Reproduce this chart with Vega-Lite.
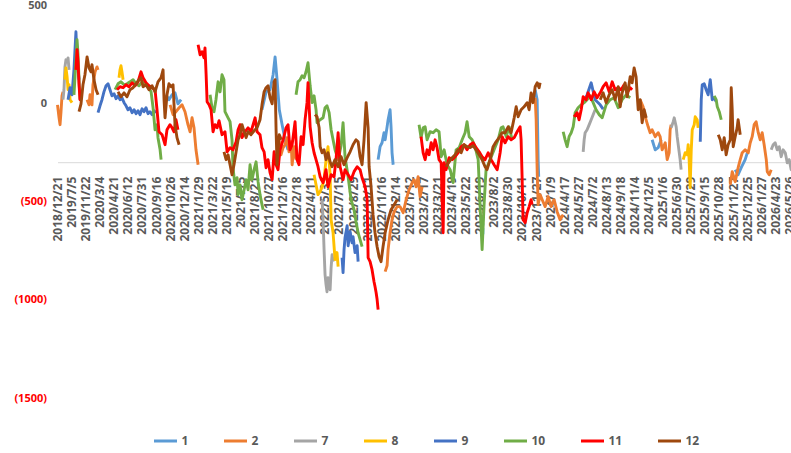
{
"$schema":"https://vega.github.io/schema/vega-lite/v6.json",
"width":760,"height":393,
"autosize":{"type":"none"},
"padding":{"left":57.5,"top":5,"right":0,"bottom":55},
"background":"white",
"config":{"view":{"stroke":null}},
"data":{"values":[
{"s":"1","g":"1a","t":7.71,"v":43},{"s":"1","g":"1a","t":7.92,"v":18},{"s":"1","g":"1a","t":8.14,"v":43},{"s":"1","g":"1a","t":8.35,"v":53},{"s":"1","g":"1a","t":8.56,"v":-3},{"s":"1","g":"1a","t":8.78,"v":18},
{"s":"1","g":"1b","t":14.53,"v":-33},{"s":"1","g":"1b","t":14.82,"v":58},{"s":"1","g":"1b","t":15.10,"v":69},{"s":"1","g":"1b","t":15.32,"v":145},{"s":"1","g":"1b","t":15.46,"v":236},{"s":"1","g":"1b","t":15.60,"v":120},{"s":"1","g":"1b","t":15.76,"v":-33},{"s":"1","g":"1b","t":15.96,"v":-109},{"s":"1","g":"1b","t":16.17,"v":-186},{"s":"1","g":"1b","t":16.38,"v":-237},
{"s":"1","g":"1c","t":22.78,"v":-287},{"s":"1","g":"1c","t":22.92,"v":-221},{"s":"1","g":"1c","t":23.06,"v":-201},{"s":"1","g":"1c","t":23.20,"v":-150},{"s":"1","g":"1c","t":23.28,"v":-186},{"s":"1","g":"1c","t":23.42,"v":-120},{"s":"1","g":"1c","t":23.49,"v":-84},{"s":"1","g":"1c","t":23.63,"v":-33},{"s":"1","g":"1c","t":23.70,"v":-120},{"s":"1","g":"1c","t":23.77,"v":-252},{"s":"1","g":"1c","t":23.85,"v":-313},
{"s":"1","g":"1d","t":33.94,"v":69},{"s":"1","g":"1d","t":34.08,"v":18},{"s":"1","g":"1d","t":34.15,"v":-287},{"s":"1","g":"1d","t":34.19,"v":-374},
{"s":"1","g":"1e","t":42.25,"v":-186},{"s":"1","g":"1e","t":42.47,"v":-237},{"s":"1","g":"1e","t":42.68,"v":-226},{"s":"1","g":"1e","t":42.89,"v":-186},
{"s":"1","g":"1f","t":48.15,"v":-338},{"s":"1","g":"1f","t":48.36,"v":-364},{"s":"1","g":"1f","t":48.58,"v":-328},{"s":"1","g":"1f","t":48.86,"v":-287},{"s":"1","g":"1f","t":49.08,"v":-237},
{"s":"2","g":"2a","t":0.0,"v":-8},{"s":"2","g":"2a","t":0.11,"v":-74},{"s":"2","g":"2a","t":0.18,"v":-109},{"s":"2","g":"2a","t":0.25,"v":-43},{"s":"2","g":"2a","t":0.32,"v":38},{"s":"2","g":"2a","t":0.39,"v":58},
{"s":"2","g":"2b","t":2.10,"v":18},{"s":"2","g":"2b","t":2.24,"v":-8},{"s":"2","g":"2b","t":2.31,"v":43},{"s":"2","g":"2b","t":2.45,"v":-8},{"s":"2","g":"2b","t":2.52,"v":94},{"s":"2","g":"2b","t":2.67,"v":160},{"s":"2","g":"2b","t":2.81,"v":185},{"s":"2","g":"2b","t":2.88,"v":170},
{"s":"2","g":"2c","t":8.00,"v":-8},{"s":"2","g":"2c","t":8.21,"v":-58},{"s":"2","g":"2c","t":8.42,"v":-43},{"s":"2","g":"2c","t":8.64,"v":-23},{"s":"2","g":"2c","t":8.85,"v":-8},{"s":"2","g":"2c","t":9.06,"v":-43},{"s":"2","g":"2c","t":9.27,"v":-109},{"s":"2","g":"2c","t":9.42,"v":-145},{"s":"2","g":"2c","t":9.56,"v":-74},{"s":"2","g":"2c","t":9.70,"v":-125},{"s":"2","g":"2c","t":9.84,"v":-237},{"s":"2","g":"2c","t":9.99,"v":-313},
{"s":"2","g":"2d","t":15.74,"v":-186},{"s":"2","g":"2d","t":15.88,"v":-262},{"s":"2","g":"2d","t":16.03,"v":-226},{"s":"2","g":"2d","t":16.17,"v":-211},{"s":"2","g":"2d","t":16.31,"v":-175},{"s":"2","g":"2d","t":16.45,"v":-247},{"s":"2","g":"2d","t":16.60,"v":-196},{"s":"2","g":"2d","t":16.67,"v":-313},{"s":"2","g":"2d","t":16.81,"v":-221},{"s":"2","g":"2d","t":16.95,"v":-287},
{"s":"2","g":"2e","t":23.28,"v":-857},{"s":"2","g":"2e","t":23.42,"v":-826},{"s":"2","g":"2e","t":23.49,"v":-745},{"s":"2","g":"2e","t":23.63,"v":-659},{"s":"2","g":"2e","t":23.77,"v":-593},{"s":"2","g":"2e","t":23.92,"v":-552},{"s":"2","g":"2e","t":24.13,"v":-526},{"s":"2","g":"2e","t":24.34,"v":-526},{"s":"2","g":"2e","t":24.56,"v":-557},{"s":"2","g":"2e","t":24.77,"v":-491},{"s":"2","g":"2e","t":24.98,"v":-440},{"s":"2","g":"2e","t":25.20,"v":-404},{"s":"2","g":"2e","t":25.34,"v":-389},{"s":"2","g":"2e","t":25.48,"v":-425},{"s":"2","g":"2e","t":25.62,"v":-374},{"s":"2","g":"2e","t":25.76,"v":-475},{"s":"2","g":"2e","t":25.91,"v":-425},
{"s":"2","g":"2f","t":33.94,"v":28},{"s":"2","g":"2f","t":34.01,"v":-84},{"s":"2","g":"2f","t":34.08,"v":-338},{"s":"2","g":"2f","t":34.15,"v":-516},{"s":"2","g":"2f","t":34.29,"v":-465},{"s":"2","g":"2f","t":34.44,"v":-491},{"s":"2","g":"2f","t":34.65,"v":-526},{"s":"2","g":"2f","t":34.86,"v":-475},{"s":"2","g":"2f","t":35.07,"v":-526},{"s":"2","g":"2f","t":35.29,"v":-491},{"s":"2","g":"2f","t":35.50,"v":-552},{"s":"2","g":"2f","t":35.71,"v":-593},{"s":"2","g":"2f","t":35.93,"v":-567},
{"s":"2","g":"2g","t":41.40,"v":18},{"s":"2","g":"2g","t":41.61,"v":-18},{"s":"2","g":"2g","t":41.76,"v":-69},{"s":"2","g":"2g","t":41.97,"v":-120},{"s":"2","g":"2g","t":42.11,"v":-150},{"s":"2","g":"2g","t":42.25,"v":-135},{"s":"2","g":"2g","t":42.47,"v":-170},{"s":"2","g":"2g","t":42.68,"v":-150},{"s":"2","g":"2g","t":42.82,"v":-170},{"s":"2","g":"2g","t":42.96,"v":-237},{"s":"2","g":"2g","t":43.18,"v":-201},{"s":"2","g":"2g","t":43.32,"v":-287},{"s":"2","g":"2g","t":43.46,"v":-252},{"s":"2","g":"2g","t":43.53,"v":-135},{"s":"2","g":"2g","t":43.60,"v":-109},
{"s":"2","g":"2h","t":47.80,"v":-415},{"s":"2","g":"2h","t":47.94,"v":-348},{"s":"2","g":"2h","t":48.15,"v":-399},{"s":"2","g":"2h","t":48.36,"v":-328},{"s":"2","g":"2h","t":48.51,"v":-287},{"s":"2","g":"2h","t":48.65,"v":-252},{"s":"2","g":"2h","t":48.86,"v":-237},{"s":"2","g":"2h","t":49.08,"v":-252},{"s":"2","g":"2h","t":49.22,"v":-201},{"s":"2","g":"2h","t":49.36,"v":-170},{"s":"2","g":"2h","t":49.50,"v":-109},{"s":"2","g":"2h","t":49.64,"v":-94},{"s":"2","g":"2h","t":49.79,"v":-150},{"s":"2","g":"2h","t":49.93,"v":-186},{"s":"2","g":"2h","t":50.07,"v":-150},{"s":"2","g":"2h","t":50.21,"v":-211},{"s":"2","g":"2h","t":50.36,"v":-287},{"s":"2","g":"2h","t":50.43,"v":-348},{"s":"2","g":"2h","t":50.57,"v":-364},{"s":"2","g":"2h","t":50.71,"v":-338},
{"s":"7","g":"7a","t":0.39,"v":18},{"s":"7","g":"7a","t":0.46,"v":69},{"s":"7","g":"7a","t":0.53,"v":185},{"s":"7","g":"7a","t":0.60,"v":221},{"s":"7","g":"7a","t":0.68,"v":211},{"s":"7","g":"7a","t":0.75,"v":231},{"s":"7","g":"7a","t":0.82,"v":170},
{"s":"7","g":"7b","t":18.80,"v":-491},{"s":"7","g":"7b","t":18.87,"v":-593},{"s":"7","g":"7b","t":18.94,"v":-745},{"s":"7","g":"7b","t":19.01,"v":-872},{"s":"7","g":"7b","t":19.08,"v":-923},{"s":"7","g":"7b","t":19.15,"v":-959},{"s":"7","g":"7b","t":19.22,"v":-888},{"s":"7","g":"7b","t":19.30,"v":-923},{"s":"7","g":"7b","t":19.37,"v":-949},{"s":"7","g":"7b","t":19.44,"v":-837},{"s":"7","g":"7b","t":19.51,"v":-771},{"s":"7","g":"7b","t":19.58,"v":-806},
{"s":"7","g":"7c","t":37.35,"v":-247},{"s":"7","g":"7c","t":37.42,"v":-186},{"s":"7","g":"7c","t":37.49,"v":-150},{"s":"7","g":"7c","t":37.63,"v":-135},{"s":"7","g":"7c","t":37.78,"v":-109},{"s":"7","g":"7c","t":37.92,"v":-84},{"s":"7","g":"7c","t":38.06,"v":-58},{"s":"7","g":"7c","t":38.20,"v":-33},
{"s":"7","g":"7d","t":43.60,"v":-125},{"s":"7","g":"7d","t":43.75,"v":-94},{"s":"7","g":"7d","t":43.82,"v":-74},{"s":"7","g":"7d","t":43.96,"v":-120},{"s":"7","g":"7d","t":44.03,"v":-170},{"s":"7","g":"7d","t":44.24,"v":-287},{"s":"7","g":"7d","t":44.31,"v":-338},
{"s":"7","g":"7e","t":50.71,"v":-237},{"s":"7","g":"7e","t":50.85,"v":-211},{"s":"7","g":"7e","t":50.99,"v":-201},{"s":"7","g":"7e","t":51.14,"v":-237},{"s":"7","g":"7e","t":51.28,"v":-221},{"s":"7","g":"7e","t":51.42,"v":-272},{"s":"7","g":"7e","t":51.56,"v":-237},{"s":"7","g":"7e","t":51.71,"v":-252},{"s":"7","g":"7e","t":51.85,"v":-303},{"s":"7","g":"7e","t":51.99,"v":-287},{"s":"7","g":"7e","t":52.13,"v":-338},{"s":"7","g":"7e","t":52.42,"v":-348},
{"s":"8","g":"8a","t":0.53,"v":120},{"s":"8","g":"8a","t":0.60,"v":180},{"s":"8","g":"8a","t":0.68,"v":135},{"s":"8","g":"8a","t":0.75,"v":69},{"s":"8","g":"8a","t":0.82,"v":94},{"s":"8","g":"8a","t":0.89,"v":18},{"s":"8","g":"8a","t":1.03,"v":3},
{"s":"8","g":"8b","t":4.37,"v":130},{"s":"8","g":"8b","t":4.44,"v":170},{"s":"8","g":"8b","t":4.51,"v":191},{"s":"8","g":"8b","t":4.58,"v":160},{"s":"8","g":"8b","t":4.66,"v":120},
{"s":"8","g":"8c","t":18.23,"v":-364},{"s":"8","g":"8c","t":18.37,"v":-415},{"s":"8","g":"8c","t":18.51,"v":-465},{"s":"8","g":"8c","t":18.66,"v":-450},{"s":"8","g":"8c","t":18.80,"v":-425},{"s":"8","g":"8c","t":18.94,"v":-389},{"s":"8","g":"8c","t":19.08,"v":-287},{"s":"8","g":"8c","t":19.22,"v":-221},{"s":"8","g":"8c","t":19.37,"v":-364},{"s":"8","g":"8c","t":19.44,"v":-593},{"s":"8","g":"8c","t":19.58,"v":-659},{"s":"8","g":"8c","t":19.72,"v":-796},{"s":"8","g":"8c","t":19.86,"v":-760},{"s":"8","g":"8c","t":19.94,"v":-832},
{"s":"8","g":"8d","t":44.46,"v":-287},{"s":"8","g":"8d","t":44.60,"v":-252},{"s":"8","g":"8d","t":44.74,"v":-262},{"s":"8","g":"8d","t":44.81,"v":-211},{"s":"8","g":"8d","t":44.88,"v":-287},{"s":"8","g":"8d","t":44.95,"v":-430},{"s":"8","g":"8d","t":45.03,"v":-237},{"s":"8","g":"8d","t":45.10,"v":-135},{"s":"8","g":"8d","t":45.24,"v":-109},{"s":"8","g":"8d","t":45.31,"v":-69},{"s":"8","g":"8d","t":45.45,"v":-84},{"s":"8","g":"8d","t":45.52,"v":-125},
{"s":"9","g":"9a","t":0.75,"v":18},{"s":"9","g":"9a","t":0.89,"v":79},{"s":"9","g":"9a","t":1.03,"v":43},{"s":"9","g":"9a","t":1.17,"v":170},{"s":"9","g":"9a","t":1.31,"v":364},{"s":"9","g":"9a","t":1.39,"v":221},{"s":"9","g":"9a","t":1.53,"v":120},
{"s":"9","g":"9b","t":2.88,"v":-48},{"s":"9","g":"9b","t":3.02,"v":-13},{"s":"9","g":"9b","t":3.16,"v":18},{"s":"9","g":"9b","t":3.30,"v":58},{"s":"9","g":"9b","t":3.45,"v":89},{"s":"9","g":"9b","t":3.59,"v":99},{"s":"9","g":"9b","t":3.73,"v":69},{"s":"9","g":"9b","t":3.87,"v":38},{"s":"9","g":"9b","t":4.02,"v":48},{"s":"9","g":"9b","t":4.16,"v":23},{"s":"9","g":"9b","t":4.30,"v":38},{"s":"9","g":"9b","t":4.44,"v":18},{"s":"9","g":"9b","t":4.58,"v":28},{"s":"9","g":"9b","t":4.73,"v":3},{"s":"9","g":"9b","t":4.87,"v":-13},{"s":"9","g":"9b","t":5.01,"v":-33},{"s":"9","g":"9b","t":5.15,"v":-23},{"s":"9","g":"9b","t":5.30,"v":-48},{"s":"9","g":"9b","t":5.44,"v":-33},{"s":"9","g":"9b","t":5.58,"v":-53},{"s":"9","g":"9b","t":5.72,"v":-38},{"s":"9","g":"9b","t":5.86,"v":-58},{"s":"9","g":"9b","t":6.01,"v":-28},{"s":"9","g":"9b","t":6.15,"v":-43},{"s":"9","g":"9b","t":6.29,"v":-23},{"s":"9","g":"9b","t":6.43,"v":-53},{"s":"9","g":"9b","t":6.57,"v":-43},{"s":"9","g":"9b","t":6.72,"v":-58},{"s":"9","g":"9b","t":6.86,"v":-38},{"s":"9","g":"9b","t":7.00,"v":-48},
{"s":"9","g":"9c","t":20.22,"v":-786},{"s":"9","g":"9c","t":20.29,"v":-862},{"s":"9","g":"9c","t":20.36,"v":-745},{"s":"9","g":"9c","t":20.43,"v":-684},{"s":"9","g":"9c","t":20.58,"v":-623},{"s":"9","g":"9c","t":20.65,"v":-725},{"s":"9","g":"9c","t":20.79,"v":-654},{"s":"9","g":"9c","t":20.93,"v":-710},{"s":"9","g":"9c","t":21.00,"v":-679},{"s":"9","g":"9c","t":21.14,"v":-760},{"s":"9","g":"9c","t":21.29,"v":-725},{"s":"9","g":"9c","t":21.36,"v":-806},
{"s":"9","g":"9d","t":37.35,"v":3},{"s":"9","g":"9d","t":37.63,"v":43},{"s":"9","g":"9d","t":37.92,"v":104},{"s":"9","g":"9d","t":38.20,"v":18},{"s":"9","g":"9d","t":38.56,"v":-8},{"s":"9","g":"9d","t":38.77,"v":-30},
{"s":"9","g":"9e","t":45.67,"v":-196},{"s":"9","g":"9e","t":45.74,"v":18},{"s":"9","g":"9e","t":45.81,"v":94},{"s":"9","g":"9e","t":45.95,"v":99},{"s":"9","g":"9e","t":46.09,"v":69},{"s":"9","g":"9e","t":46.23,"v":43},{"s":"9","g":"9e","t":46.38,"v":120},{"s":"9","g":"9e","t":46.52,"v":18},{"s":"9","g":"9e","t":46.66,"v":28},{"s":"9","g":"9e","t":46.80,"v":8},
{"s":"10","g":"10a","t":1.17,"v":43},{"s":"10","g":"10a","t":1.31,"v":221},{"s":"10","g":"10a","t":1.39,"v":323},{"s":"10","g":"10a","t":1.46,"v":247},{"s":"10","g":"10a","t":1.53,"v":120},{"s":"10","g":"10a","t":1.60,"v":18},
{"s":"10","g":"10b","t":4.09,"v":69},{"s":"10","g":"10b","t":4.30,"v":99},{"s":"10","g":"10b","t":4.51,"v":109},{"s":"10","g":"10b","t":4.73,"v":94},{"s":"10","g":"10b","t":4.94,"v":99},{"s":"10","g":"10b","t":5.15,"v":109},{"s":"10","g":"10b","t":5.37,"v":120},{"s":"10","g":"10b","t":5.58,"v":99},{"s":"10","g":"10b","t":5.79,"v":89},{"s":"10","g":"10b","t":6.01,"v":109},{"s":"10","g":"10b","t":6.22,"v":99},{"s":"10","g":"10b","t":6.43,"v":89},{"s":"10","g":"10b","t":6.65,"v":58},{"s":"10","g":"10b","t":6.79,"v":-23},{"s":"10","g":"10b","t":6.93,"v":-135},{"s":"10","g":"10b","t":7.07,"v":-109},{"s":"10","g":"10b","t":7.14,"v":-175},{"s":"10","g":"10b","t":7.29,"v":-237},{"s":"10","g":"10b","t":7.36,"v":-287},
{"s":"10","g":"10c","t":10.84,"v":43},{"s":"10","g":"10c","t":10.98,"v":-23},{"s":"10","g":"10c","t":11.12,"v":-43},{"s":"10","g":"10c","t":11.26,"v":18},{"s":"10","g":"10c","t":11.41,"v":109},{"s":"10","g":"10c","t":11.55,"v":58},{"s":"10","g":"10c","t":11.69,"v":145},{"s":"10","g":"10c","t":11.83,"v":120},{"s":"10","g":"10c","t":11.90,"v":-43},{"s":"10","g":"10c","t":12.12,"v":-74},{"s":"10","g":"10c","t":12.26,"v":-94},{"s":"10","g":"10c","t":12.40,"v":-186},{"s":"10","g":"10c","t":12.47,"v":-328},{"s":"10","g":"10c","t":12.61,"v":-415},{"s":"10","g":"10c","t":12.76,"v":-379},{"s":"10","g":"10c","t":12.83,"v":-465},{"s":"10","g":"10c","t":12.97,"v":-415},{"s":"10","g":"10c","t":13.11,"v":-491},{"s":"10","g":"10c","t":13.26,"v":-440},{"s":"10","g":"10c","t":13.40,"v":-389},{"s":"10","g":"10c","t":13.54,"v":-440},{"s":"10","g":"10c","t":13.68,"v":-313},{"s":"10","g":"10c","t":13.82,"v":-389},{"s":"10","g":"10c","t":13.97,"v":-338},{"s":"10","g":"10c","t":14.11,"v":-298},{"s":"10","g":"10c","t":14.25,"v":-399},{"s":"10","g":"10c","t":14.39,"v":-465},{"s":"10","g":"10c","t":14.53,"v":-516},{"s":"10","g":"10c","t":14.61,"v":-542},
{"s":"10","g":"10d","t":16.95,"v":43},{"s":"10","g":"10d","t":17.09,"v":109},{"s":"10","g":"10d","t":17.24,"v":120},{"s":"10","g":"10d","t":17.38,"v":140},{"s":"10","g":"10d","t":17.52,"v":130},{"s":"10","g":"10d","t":17.66,"v":160},{"s":"10","g":"10d","t":17.80,"v":206},{"s":"10","g":"10d","t":17.95,"v":89},{"s":"10","g":"10d","t":18.09,"v":3},{"s":"10","g":"10d","t":18.23,"v":38},{"s":"10","g":"10d","t":18.37,"v":-33},{"s":"10","g":"10d","t":18.44,"v":-99},{"s":"10","g":"10d","t":18.66,"v":-84},{"s":"10","g":"10d","t":18.87,"v":-74},{"s":"10","g":"10d","t":19.01,"v":-23},{"s":"10","g":"10d","t":19.15,"v":-13},{"s":"10","g":"10d","t":19.30,"v":-48},{"s":"10","g":"10d","t":19.44,"v":-135},{"s":"10","g":"10d","t":19.58,"v":-186},{"s":"10","g":"10d","t":19.72,"v":-237},{"s":"10","g":"10d","t":19.94,"v":-287},{"s":"10","g":"10d","t":20.15,"v":-216},{"s":"10","g":"10d","t":20.29,"v":-99},{"s":"10","g":"10d","t":20.43,"v":-272},{"s":"10","g":"10d","t":20.65,"v":-374},{"s":"10","g":"10d","t":20.86,"v":-491},{"s":"10","g":"10d","t":21.07,"v":-542},{"s":"10","g":"10d","t":21.21,"v":-603},{"s":"10","g":"10d","t":21.36,"v":-659},{"s":"10","g":"10d","t":21.50,"v":-694},{"s":"10","g":"10d","t":21.64,"v":-730},
{"s":"10","g":"10e","t":25.69,"v":-109},{"s":"10","g":"10e","t":25.83,"v":-175},{"s":"10","g":"10e","t":25.98,"v":-125},{"s":"10","g":"10e","t":26.12,"v":-120},{"s":"10","g":"10e","t":26.26,"v":-186},{"s":"10","g":"10e","t":26.47,"v":-145},{"s":"10","g":"10e","t":26.69,"v":-150},{"s":"10","g":"10e","t":26.90,"v":-135},{"s":"10","g":"10e","t":27.11,"v":-145},{"s":"10","g":"10e","t":27.26,"v":-272},{"s":"10","g":"10e","t":27.47,"v":-237},{"s":"10","g":"10e","t":27.68,"v":-313},{"s":"10","g":"10e","t":27.90,"v":-338},{"s":"10","g":"10e","t":28.11,"v":-404},{"s":"10","g":"10e","t":28.32,"v":-237},{"s":"10","g":"10e","t":28.54,"v":-226},{"s":"10","g":"10e","t":28.75,"v":-186},{"s":"10","g":"10e","t":28.96,"v":-150},{"s":"10","g":"10e","t":29.10,"v":-94},{"s":"10","g":"10e","t":29.25,"v":-170},{"s":"10","g":"10e","t":29.46,"v":-186},{"s":"10","g":"10e","t":29.67,"v":-221},{"s":"10","g":"10e","t":29.89,"v":-287},{"s":"10","g":"10e","t":30.03,"v":-526},{"s":"10","g":"10e","t":30.17,"v":-745},{"s":"10","g":"10e","t":30.31,"v":-516},{"s":"10","g":"10e","t":30.45,"v":-338},{"s":"10","g":"10e","t":30.74,"v":-287},{"s":"10","g":"10e","t":31.02,"v":-237},{"s":"10","g":"10e","t":31.31,"v":-186},{"s":"10","g":"10e","t":31.52,"v":-125},{"s":"10","g":"10e","t":31.66,"v":-120},{"s":"10","g":"10e","t":31.88,"v":-170},{"s":"10","g":"10e","t":32.09,"v":-120},{"s":"10","g":"10e","t":32.30,"v":-186},
{"s":"10","g":"10f","t":35.93,"v":-145},{"s":"10","g":"10f","t":36.07,"v":-186},{"s":"10","g":"10f","t":36.21,"v":-221},{"s":"10","g":"10f","t":36.35,"v":-170},{"s":"10","g":"10f","t":36.50,"v":-150},{"s":"10","g":"10f","t":36.64,"v":-120},{"s":"10","g":"10f","t":36.78,"v":-48},{"s":"10","g":"10f","t":36.99,"v":-23},{"s":"10","g":"10f","t":37.21,"v":-8},{"s":"10","g":"10f","t":37.42,"v":3},{"s":"10","g":"10f","t":37.63,"v":18},{"s":"10","g":"10f","t":37.85,"v":38},{"s":"10","g":"10f","t":38.06,"v":3},{"s":"10","g":"10f","t":38.27,"v":-33},{"s":"10","g":"10f","t":38.49,"v":-58},{"s":"10","g":"10f","t":38.70,"v":-74},{"s":"10","g":"10f","t":38.98,"v":-8},{"s":"10","g":"10f","t":39.27,"v":18},{"s":"10","g":"10f","t":39.55,"v":28},{"s":"10","g":"10f","t":39.84,"v":-23},{"s":"10","g":"10f","t":40.12,"v":18},{"s":"10","g":"10f","t":40.40,"v":43},{"s":"10","g":"10f","t":40.69,"v":28},
{"s":"10","g":"10g","t":46.66,"v":38},{"s":"10","g":"10g","t":46.80,"v":18},{"s":"10","g":"10g","t":46.88,"v":-18},{"s":"10","g":"10g","t":47.02,"v":-43},{"s":"10","g":"10g","t":47.16,"v":-84},
{"s":"11","g":"11a","t":1.31,"v":170},{"s":"11","g":"11a","t":1.39,"v":273},{"s":"11","g":"11a","t":1.46,"v":211},{"s":"11","g":"11a","t":1.53,"v":94},{"s":"11","g":"11a","t":1.60,"v":18},{"s":"11","g":"11a","t":1.67,"v":43},
{"s":"11","g":"11b","t":4.23,"v":69},{"s":"11","g":"11b","t":4.44,"v":84},{"s":"11","g":"11b","t":4.66,"v":79},{"s":"11","g":"11b","t":4.87,"v":94},{"s":"11","g":"11b","t":5.08,"v":84},{"s":"11","g":"11b","t":5.30,"v":104},{"s":"11","g":"11b","t":5.51,"v":89},{"s":"11","g":"11b","t":5.72,"v":109},{"s":"11","g":"11b","t":5.93,"v":160},{"s":"11","g":"11b","t":6.08,"v":130},{"s":"11","g":"11b","t":6.29,"v":104},{"s":"11","g":"11b","t":6.50,"v":89},{"s":"11","g":"11b","t":6.72,"v":79},{"s":"11","g":"11b","t":6.93,"v":69},{"s":"11","g":"11b","t":7.07,"v":-33},{"s":"11","g":"11b","t":7.21,"v":-145},{"s":"11","g":"11b","t":7.43,"v":-160},{"s":"11","g":"11b","t":7.64,"v":-211},{"s":"11","g":"11b","t":7.78,"v":-135},{"s":"11","g":"11b","t":7.99,"v":-109},{"s":"11","g":"11b","t":8.14,"v":-125},{"s":"11","g":"11b","t":8.28,"v":-145},{"s":"11","g":"11b","t":8.42,"v":-84},{"s":"11","g":"11b","t":8.56,"v":-135},
{"s":"11","g":"11c","t":9.99,"v":298},{"s":"11","g":"11c","t":10.13,"v":247},{"s":"11","g":"11c","t":10.27,"v":262},{"s":"11","g":"11c","t":10.41,"v":231},{"s":"11","g":"11c","t":10.48,"v":282},{"s":"11","g":"11c","t":10.56,"v":145},{"s":"11","g":"11c","t":10.63,"v":8},{"s":"11","g":"11c","t":10.77,"v":-8},{"s":"11","g":"11c","t":10.91,"v":-33},{"s":"11","g":"11c","t":11.05,"v":-145},{"s":"11","g":"11c","t":11.19,"v":-109},{"s":"11","g":"11c","t":11.34,"v":-125},{"s":"11","g":"11c","t":11.48,"v":-89},{"s":"11","g":"11c","t":11.69,"v":-160},{"s":"11","g":"11c","t":11.90,"v":-145},{"s":"11","g":"11c","t":12.05,"v":-247},{"s":"11","g":"11c","t":12.26,"v":-226},{"s":"11","g":"11c","t":12.47,"v":-237},{"s":"11","g":"11c","t":12.69,"v":-196},{"s":"11","g":"11c","t":12.83,"v":-135},{"s":"11","g":"11c","t":12.97,"v":-109},{"s":"11","g":"11c","t":13.11,"v":-175},{"s":"11","g":"11c","t":13.33,"v":-145},{"s":"11","g":"11c","t":13.54,"v":-125},{"s":"11","g":"11c","t":13.75,"v":-145},{"s":"11","g":"11c","t":14.04,"v":-74},{"s":"11","g":"11c","t":14.18,"v":-145},{"s":"11","g":"11c","t":14.39,"v":-160},{"s":"11","g":"11c","t":14.53,"v":-226},{"s":"11","g":"11c","t":14.68,"v":-247},{"s":"11","g":"11c","t":14.82,"v":-328},{"s":"11","g":"11c","t":14.96,"v":-287},{"s":"11","g":"11c","t":15.10,"v":-353},{"s":"11","g":"11c","t":15.25,"v":-389},{"s":"11","g":"11c","t":15.39,"v":-247},{"s":"11","g":"11c","t":15.53,"v":-313},{"s":"11","g":"11c","t":15.67,"v":-338},{"s":"11","g":"11c","t":15.81,"v":-237},{"s":"11","g":"11c","t":16.03,"v":-186},{"s":"11","g":"11c","t":16.24,"v":-125},{"s":"11","g":"11c","t":16.38,"v":-109},{"s":"11","g":"11c","t":16.52,"v":-237},{"s":"11","g":"11c","t":16.67,"v":-211},{"s":"11","g":"11c","t":16.88,"v":-94},{"s":"11","g":"11c","t":17.02,"v":-287},{"s":"11","g":"11c","t":17.16,"v":-313},{"s":"11","g":"11c","t":17.31,"v":-170},{"s":"11","g":"11c","t":17.45,"v":-211},{"s":"11","g":"11c","t":17.59,"v":-84},{"s":"11","g":"11c","t":17.73,"v":3},{"s":"11","g":"11c","t":17.80,"v":104},{"s":"11","g":"11c","t":17.95,"v":-120},{"s":"11","g":"11c","t":18.09,"v":-201},{"s":"11","g":"11c","t":18.23,"v":-252},{"s":"11","g":"11c","t":18.37,"v":-287},{"s":"11","g":"11c","t":18.51,"v":-323},{"s":"11","g":"11c","t":18.66,"v":-374},{"s":"11","g":"11c","t":18.87,"v":-404},{"s":"11","g":"11c","t":19.08,"v":-338},{"s":"11","g":"11c","t":19.22,"v":-425},{"s":"11","g":"11c","t":19.44,"v":-364},{"s":"11","g":"11c","t":19.65,"v":-374},{"s":"11","g":"11c","t":19.79,"v":-287},{"s":"11","g":"11c","t":19.94,"v":-150},{"s":"11","g":"11c","t":20.08,"v":-323},{"s":"11","g":"11c","t":20.29,"v":-389},{"s":"11","g":"11c","t":20.43,"v":-338},{"s":"11","g":"11c","t":20.65,"v":-364},{"s":"11","g":"11c","t":20.86,"v":-389},{"s":"11","g":"11c","t":21.07,"v":-348},{"s":"11","g":"11c","t":21.29,"v":-323},{"s":"11","g":"11c","t":21.50,"v":-338},{"s":"11","g":"11c","t":21.64,"v":-379},{"s":"11","g":"11c","t":21.86,"v":-425},{"s":"11","g":"11c","t":22.00,"v":-491},{"s":"11","g":"11c","t":22.07,"v":-786},{"s":"11","g":"11c","t":22.21,"v":-806},{"s":"11","g":"11c","t":22.35,"v":-847},{"s":"11","g":"11c","t":22.49,"v":-908},{"s":"11","g":"11c","t":22.56,"v":-933},{"s":"11","g":"11c","t":22.64,"v":-964},{"s":"11","g":"11c","t":22.71,"v":-999},{"s":"11","g":"11c","t":22.78,"v":-1050},
{"s":"11","g":"11d","t":25.83,"v":-170},{"s":"11","g":"11d","t":25.98,"v":-252},{"s":"11","g":"11d","t":26.12,"v":-287},{"s":"11","g":"11d","t":26.26,"v":-237},{"s":"11","g":"11d","t":26.40,"v":-262},{"s":"11","g":"11d","t":26.55,"v":-201},{"s":"11","g":"11d","t":26.69,"v":-237},{"s":"11","g":"11d","t":26.83,"v":-186},{"s":"11","g":"11d","t":26.97,"v":-226},{"s":"11","g":"11d","t":27.11,"v":-287},{"s":"11","g":"11d","t":27.26,"v":-303},{"s":"11","g":"11d","t":27.33,"v":-491},{"s":"11","g":"11d","t":27.40,"v":-659},{"s":"11","g":"11d","t":27.47,"v":-303},{"s":"11","g":"11d","t":27.61,"v":-338},{"s":"11","g":"11d","t":27.83,"v":-277},{"s":"11","g":"11d","t":28.04,"v":-287},{"s":"11","g":"11d","t":28.25,"v":-272},{"s":"11","g":"11d","t":28.46,"v":-252},{"s":"11","g":"11d","t":28.68,"v":-221},{"s":"11","g":"11d","t":28.89,"v":-211},{"s":"11","g":"11d","t":29.10,"v":-237},{"s":"11","g":"11d","t":29.32,"v":-211},{"s":"11","g":"11d","t":29.53,"v":-201},{"s":"11","g":"11d","t":29.74,"v":-226},{"s":"11","g":"11d","t":29.96,"v":-247},{"s":"11","g":"11d","t":30.17,"v":-272},{"s":"11","g":"11d","t":30.38,"v":-287},{"s":"11","g":"11d","t":30.60,"v":-252},{"s":"11","g":"11d","t":30.81,"v":-287},{"s":"11","g":"11d","t":31.02,"v":-313},{"s":"11","g":"11d","t":31.24,"v":-338},{"s":"11","g":"11d","t":31.45,"v":-252},{"s":"11","g":"11d","t":31.59,"v":-170},{"s":"11","g":"11d","t":31.80,"v":-201},{"s":"11","g":"11d","t":32.02,"v":-170},{"s":"11","g":"11d","t":32.23,"v":-186},{"s":"11","g":"11d","t":32.45,"v":-175},{"s":"11","g":"11d","t":32.66,"v":-145},{"s":"11","g":"11d","t":32.87,"v":-120},{"s":"11","g":"11d","t":32.94,"v":-186},{"s":"11","g":"11d","t":33.01,"v":-374},{"s":"11","g":"11d","t":33.08,"v":-593},{"s":"11","g":"11d","t":33.23,"v":-608},{"s":"11","g":"11d","t":33.37,"v":-557},{"s":"11","g":"11d","t":33.51,"v":-526},{"s":"11","g":"11d","t":33.65,"v":-491},{"s":"11","g":"11d","t":33.72,"v":-516},
{"s":"11","g":"11e","t":36.71,"v":-69},{"s":"11","g":"11e","t":36.92,"v":-48},{"s":"11","g":"11e","t":37.06,"v":-84},{"s":"11","g":"11e","t":37.21,"v":-33},{"s":"11","g":"11e","t":37.35,"v":33},{"s":"11","g":"11e","t":37.56,"v":18},{"s":"11","g":"11e","t":37.70,"v":53},{"s":"11","g":"11e","t":37.92,"v":18},{"s":"11","g":"11e","t":38.13,"v":58},{"s":"11","g":"11e","t":38.34,"v":28},{"s":"11","g":"11e","t":38.56,"v":53},{"s":"11","g":"11e","t":38.77,"v":84},{"s":"11","g":"11e","t":38.98,"v":104},{"s":"11","g":"11e","t":39.20,"v":58},{"s":"11","g":"11e","t":39.41,"v":109},{"s":"11","g":"11e","t":39.62,"v":69},{"s":"11","g":"11e","t":39.84,"v":79},{"s":"11","g":"11e","t":40.05,"v":69},{"s":"11","g":"11e","t":40.26,"v":94},{"s":"11","g":"11e","t":40.48,"v":53},{"s":"11","g":"11e","t":40.69,"v":79},{"s":"11","g":"11e","t":40.83,"v":69},
{"s":"12","g":"12a","t":1.53,"v":-43},{"s":"12","g":"12a","t":1.67,"v":-3},{"s":"12","g":"12a","t":1.81,"v":94},{"s":"12","g":"12a","t":1.95,"v":145},{"s":"12","g":"12a","t":2.10,"v":236},{"s":"12","g":"12a","t":2.24,"v":180},{"s":"12","g":"12a","t":2.38,"v":160},{"s":"12","g":"12a","t":2.45,"v":196},{"s":"12","g":"12a","t":2.59,"v":120},{"s":"12","g":"12a","t":2.74,"v":69},{"s":"12","g":"12a","t":2.88,"v":43},
{"s":"12","g":"12b","t":4.30,"v":58},{"s":"12","g":"12b","t":4.51,"v":33},{"s":"12","g":"12b","t":4.73,"v":53},{"s":"12","g":"12b","t":4.94,"v":33},{"s":"12","g":"12b","t":5.15,"v":69},{"s":"12","g":"12b","t":5.37,"v":79},{"s":"12","g":"12b","t":5.58,"v":99},{"s":"12","g":"12b","t":5.79,"v":120},{"s":"12","g":"12b","t":5.93,"v":130},{"s":"12","g":"12b","t":6.08,"v":84},{"s":"12","g":"12b","t":6.29,"v":94},{"s":"12","g":"12b","t":6.50,"v":69},{"s":"12","g":"12b","t":6.72,"v":89},{"s":"12","g":"12b","t":6.93,"v":58},{"s":"12","g":"12b","t":7.14,"v":109},{"s":"12","g":"12b","t":7.36,"v":130},{"s":"12","g":"12b","t":7.50,"v":170},{"s":"12","g":"12b","t":7.57,"v":18},{"s":"12","g":"12b","t":7.64,"v":-74},{"s":"12","g":"12b","t":7.78,"v":43},{"s":"12","g":"12b","t":7.92,"v":99},{"s":"12","g":"12b","t":8.07,"v":84},{"s":"12","g":"12b","t":8.21,"v":94},{"s":"12","g":"12b","t":8.35,"v":-109},{"s":"12","g":"12b","t":8.49,"v":-175},{"s":"12","g":"12b","t":8.64,"v":-211},
{"s":"12","g":"12c","t":11.83,"v":-247},{"s":"12","g":"12c","t":11.98,"v":-287},{"s":"12","g":"12c","t":12.12,"v":-262},{"s":"12","g":"12c","t":12.26,"v":-313},{"s":"12","g":"12c","t":12.40,"v":-364},{"s":"12","g":"12c","t":12.54,"v":-313},{"s":"12","g":"12c","t":12.69,"v":-247},{"s":"12","g":"12c","t":12.83,"v":-186},{"s":"12","g":"12c","t":12.97,"v":-160},{"s":"12","g":"12c","t":13.11,"v":-109},{"s":"12","g":"12c","t":13.26,"v":-145},{"s":"12","g":"12c","t":13.40,"v":-175},{"s":"12","g":"12c","t":13.54,"v":-145},{"s":"12","g":"12c","t":13.75,"v":-160},{"s":"12","g":"12c","t":13.97,"v":-140},{"s":"12","g":"12c","t":14.18,"v":-125},{"s":"12","g":"12c","t":14.39,"v":-84},{"s":"12","g":"12c","t":14.53,"v":-8},{"s":"12","g":"12c","t":14.68,"v":58},{"s":"12","g":"12c","t":14.82,"v":79},{"s":"12","g":"12c","t":14.96,"v":89},{"s":"12","g":"12c","t":15.10,"v":28},{"s":"12","g":"12c","t":15.25,"v":-3},{"s":"12","g":"12c","t":15.39,"v":109},{"s":"12","g":"12c","t":15.46,"v":120},{"s":"12","g":"12c","t":15.53,"v":-135},{"s":"12","g":"12c","t":15.60,"v":-313},{"s":"12","g":"12c","t":15.76,"v":-160},{"s":"12","g":"12c","t":15.90,"v":-186},
{"s":"12","g":"12d","t":18.30,"v":-58},{"s":"12","g":"12d","t":18.44,"v":-69},{"s":"12","g":"12d","t":18.59,"v":-125},{"s":"12","g":"12d","t":18.66,"v":-221},{"s":"12","g":"12d","t":18.80,"v":-252},{"s":"12","g":"12d","t":18.94,"v":-237},{"s":"12","g":"12d","t":19.08,"v":-287},{"s":"12","g":"12d","t":19.22,"v":-252},{"s":"12","g":"12d","t":19.37,"v":-298},{"s":"12","g":"12d","t":19.51,"v":-323},{"s":"12","g":"12d","t":19.72,"v":-287},{"s":"12","g":"12d","t":19.94,"v":-323},{"s":"12","g":"12d","t":20.15,"v":-272},{"s":"12","g":"12d","t":20.36,"v":-313},{"s":"12","g":"12d","t":20.58,"v":-277},{"s":"12","g":"12d","t":20.79,"v":-247},{"s":"12","g":"12d","t":21.00,"v":-211},{"s":"12","g":"12d","t":21.21,"v":-186},{"s":"12","g":"12d","t":21.36,"v":-196},{"s":"12","g":"12d","t":21.50,"v":-272},{"s":"12","g":"12d","t":21.64,"v":-313},{"s":"12","g":"12d","t":21.78,"v":-186},{"s":"12","g":"12d","t":21.93,"v":3},{"s":"12","g":"12d","t":22.07,"v":-125},{"s":"12","g":"12d","t":22.14,"v":-323},{"s":"12","g":"12d","t":22.28,"v":-425},{"s":"12","g":"12d","t":22.42,"v":-567},{"s":"12","g":"12d","t":22.56,"v":-659},{"s":"12","g":"12d","t":22.71,"v":-730},{"s":"12","g":"12d","t":22.85,"v":-781},{"s":"12","g":"12d","t":22.99,"v":-806},{"s":"12","g":"12d","t":23.13,"v":-730},{"s":"12","g":"12d","t":23.28,"v":-659},{"s":"12","g":"12d","t":23.49,"v":-593},{"s":"12","g":"12d","t":23.70,"v":-542},{"s":"12","g":"12d","t":23.92,"v":-516},{"s":"12","g":"12d","t":24.13,"v":-491},
{"s":"12","g":"12e","t":27.61,"v":-323},{"s":"12","g":"12e","t":27.83,"v":-298},{"s":"12","g":"12e","t":28.04,"v":-277},{"s":"12","g":"12e","t":28.25,"v":-262},{"s":"12","g":"12e","t":28.46,"v":-237},{"s":"12","g":"12e","t":28.68,"v":-252},{"s":"12","g":"12e","t":28.89,"v":-211},{"s":"12","g":"12e","t":29.10,"v":-221},{"s":"12","g":"12e","t":29.32,"v":-226},{"s":"12","g":"12e","t":29.53,"v":-216},{"s":"12","g":"12e","t":29.74,"v":-237},{"s":"12","g":"12e","t":29.96,"v":-262},{"s":"12","g":"12e","t":30.17,"v":-287},{"s":"12","g":"12e","t":30.38,"v":-323},{"s":"12","g":"12e","t":30.52,"v":-338},{"s":"12","g":"12e","t":30.74,"v":-287},{"s":"12","g":"12e","t":30.95,"v":-221},{"s":"12","g":"12e","t":31.16,"v":-196},{"s":"12","g":"12e","t":31.38,"v":-175},{"s":"12","g":"12e","t":31.59,"v":-150},{"s":"12","g":"12e","t":31.80,"v":-150},{"s":"12","g":"12e","t":32.02,"v":-120},{"s":"12","g":"12e","t":32.23,"v":-150},{"s":"12","g":"12e","t":32.45,"v":-74},{"s":"12","g":"12e","t":32.59,"v":-18},{"s":"12","g":"12e","t":32.73,"v":-69},{"s":"12","g":"12e","t":32.94,"v":-33},{"s":"12","g":"12e","t":33.15,"v":-18},{"s":"12","g":"12e","t":33.37,"v":3},{"s":"12","g":"12e","t":33.51,"v":-33},{"s":"12","g":"12e","t":33.65,"v":53},{"s":"12","g":"12e","t":33.79,"v":3},{"s":"12","g":"12e","t":33.94,"v":84},{"s":"12","g":"12e","t":34.08,"v":104},{"s":"12","g":"12e","t":34.22,"v":79},{"s":"12","g":"12e","t":34.29,"v":104},
{"s":"12","g":"12f","t":38.56,"v":18},{"s":"12","g":"12f","t":38.77,"v":53},{"s":"12","g":"12f","t":38.98,"v":3},{"s":"12","g":"12f","t":39.20,"v":43},{"s":"12","g":"12f","t":39.41,"v":69},{"s":"12","g":"12f","t":39.62,"v":18},{"s":"12","g":"12f","t":39.84,"v":84},{"s":"12","g":"12f","t":39.98,"v":-18},{"s":"12","g":"12f","t":40.12,"v":53},{"s":"12","g":"12f","t":40.33,"v":104},{"s":"12","g":"12f","t":40.48,"v":33},{"s":"12","g":"12f","t":40.69,"v":135},{"s":"12","g":"12f","t":40.83,"v":104},{"s":"12","g":"12f","t":40.97,"v":180},{"s":"12","g":"12f","t":41.11,"v":135},{"s":"12","g":"12f","t":41.18,"v":53},{"s":"12","g":"12f","t":41.26,"v":-33},{"s":"12","g":"12f","t":41.40,"v":18},{"s":"12","g":"12f","t":41.54,"v":-99},{"s":"12","g":"12f","t":41.68,"v":-33},{"s":"12","g":"12f","t":41.83,"v":-74},
{"s":"12","g":"12g","t":46.95,"v":-160},{"s":"12","g":"12g","t":47.09,"v":-186},{"s":"12","g":"12g","t":47.23,"v":-237},{"s":"12","g":"12g","t":47.37,"v":-175},{"s":"12","g":"12g","t":47.51,"v":-262},{"s":"12","g":"12g","t":47.65,"v":-211},{"s":"12","g":"12g","t":47.80,"v":-186},{"s":"12","g":"12g","t":47.87,"v":79},{"s":"12","g":"12g","t":47.94,"v":-33},{"s":"12","g":"12g","t":48.01,"v":-221},{"s":"12","g":"12g","t":48.15,"v":-170},{"s":"12","g":"12g","t":48.29,"v":-125},{"s":"12","g":"12g","t":48.36,"v":-84},{"s":"12","g":"12g","t":48.51,"v":-160}
]},
"mark":{"type":"line","strokeWidth":2.9,"strokeJoin":"round"},
"encoding":{
"x":{"field":"t","type":"quantitative","scale":{"domain":[0,54],"nice":false,"zero":false},
"axis":{"title":null,"offset":-235.8,"values":[0,1,2,3,4,5,6,7,8,9,10,11,12,13,14,15,16,17,18,19,20,21,22,23,24,25,26,27,28,29,30,31,32,33,34,35,36,37,38,39,40,41,42,43,44,45,46,47,48,49,50,51,52],
"labelExpr":"['2018/12/21','2019/7/5','2019/11/22','2020/3/4','2020/4/21','2020/6/12','2020/7/31','2020/9/16','2020/10/26','2020/12/14','2021/1/29','2021/3/22','2021/5/19','2021/7/5','2021/8/21','2021/10/27','2021/12/16','2022/2/18','2022/4/11','2022/5/31','2022/7/15','2022/8/29','2022/10/11','2022/11/16','2022/12/14','2023/1/12','2023/2/17','2023/3/21','2023/4/19','2023/5/22','2023/6/19','2023/8/2','2023/8/30','2023/10/11','2023/11/27','2024/1/9','2024/4/17','2024/5/27','2024/7/2','2024/8/13','2024/9/18','2024/11/4','2024/12/5','2025/1/6','2025/6/30','2025/7/29','2025/9/15','2025/10/28','2025/11/27','2025/12/25','2026/1/27','2026/4/23','2026/5/26'][datum.value]",
"labelAngle":270,"labelAlign":"right","labelBaseline":"middle","labelPadding":14,"labelOverlap":false,"labelBound":false,
"labelFont":"Open Sans","labelFontWeight":"bold","labelFontSize":12,"labelColor":"#595959",
"ticks":false,"grid":false,"domainColor":"#D9D9D9","domainWidth":1}},
"y":{"field":"v","type":"quantitative","scale":{"domain":[-1500,500],"nice":false,"zero":false},
"axis":{"title":null,"values":[500,0,-500,-1000,-1500],"labelExpr":"datum.value < 0 ? '(' + format(-datum.value, 'd') + ')' : format(datum.value, 'd')",
"labelColor":{"condition":{"test":"datum.value < 0","value":"#FF0000"},"value":"#595959"},
"labelFont":"Open Sans","labelFontWeight":"bold","labelFontSize":11,"labelPadding":11,"ticks":false,"domain":false,"grid":false}},
"color":{"field":"s","type":"nominal","scale":{"domain":["1","2","7","8","9","10","11","12"],"range":["#5B9BD5","#ED7D31","#A5A5A5","#FFC000","#4472C4","#70AD47","#FF0000","#9E480E"]},
"legend":{"orient":"none","legendX":95,"legendY":423,"direction":"horizontal","title":null,"symbolType":"stroke","symbolSize":529,"symbolStrokeWidth":3,"labelFont":"Open Sans","labelFontWeight":"bold","labelFontSize":12,"labelColor":"#595959","columnPadding":29,"labelOffset":3,"padding":0}},
"detail":{"field":"g","type":"nominal"}
}
}
